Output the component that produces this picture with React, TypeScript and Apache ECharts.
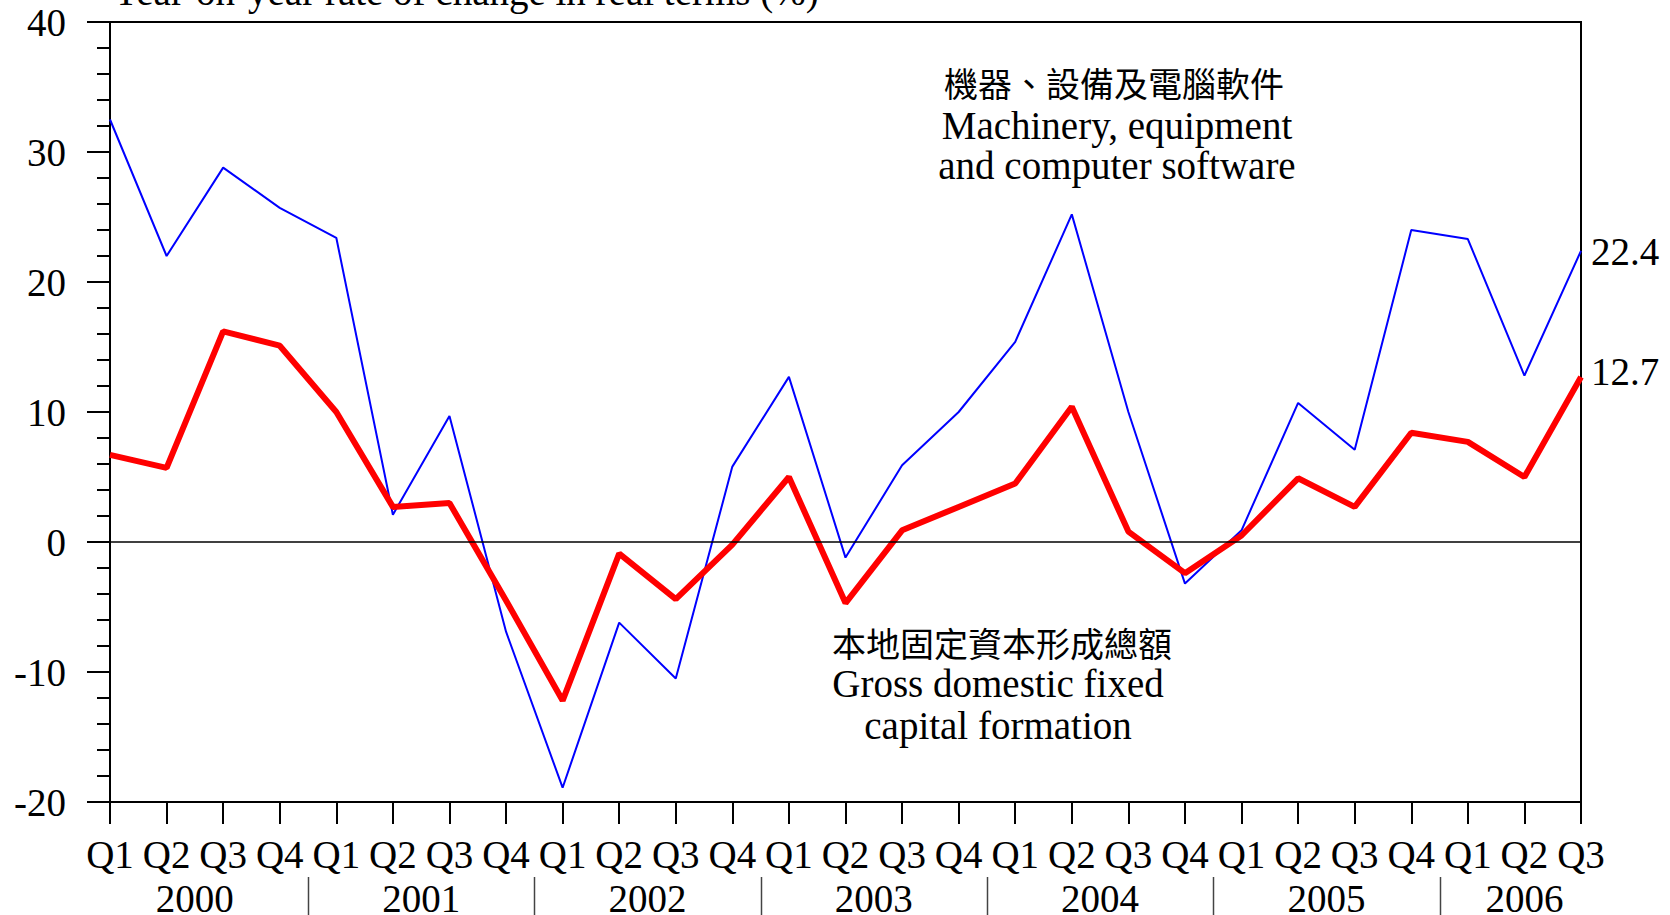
import React, { useEffect, useRef } from "react";
import * as echarts from "echarts";

const quarters = [
  "Q1", "Q2", "Q3", "Q4",
  "Q1", "Q2", "Q3", "Q4",
  "Q1", "Q2", "Q3", "Q4",
  "Q1", "Q2", "Q3", "Q4",
  "Q1", "Q2", "Q3", "Q4",
  "Q1", "Q2", "Q3", "Q4",
  "Q1", "Q2", "Q3",
];
const years = ["2000", "2001", "2002", "2003", "2004", "2005", "2006"];

const machinery = [
  32.5, 22.0, 28.8, 25.7,
  23.4, 2.1, 9.7, -6.9,
  -18.9, -6.2, -10.5, 5.8,
  12.7, -1.2, 5.9, 10.0,
  15.4, 25.2, 10.0, -3.2,
  0.9, 10.7, 7.1, 24.0,
  23.3, 12.8, 22.4,
];
const gdfcf = [
  6.7, 5.7, 16.2, 15.1,
  10.0, 2.7, 3.0, -4.5,
  -12.2, -0.9, -4.4, -0.2,
  5.0, -4.7, 0.9, 2.7,
  4.5, 10.4, 0.8, -2.4,
  0.5, 4.9, 2.7, 8.4,
  7.7, 5.0, 12.7,
];

const yTitle = "Year-on-year rate of change in real terms (%)";
const machineryLabel = ["機器、設備及電腦軟件", "Machinery, equipment", "and computer software"];
const gdfcfLabel = ["本地固定資本形成總額", "Gross domestic fixed", "capital formation"];

const SERIF = '"Liberation Serif", "Times New Roman", serif';
const CJK = '"Noto Sans CJK TC", "Noto Sans CJK SC", sans-serif';
const FS = 39;

export default function App() {
  const ref = useRef<HTMLDivElement>(null);

  useEffect(() => {
    document.body.style.margin = "0";
    const chart = echarts.init(ref.current!, null, { renderer: "svg" });
    const option: any = {
      animation: false,
      backgroundColor: "#ffffff",
      grid: {
        left: 110,
        right: 89,
        top: 22,
        bottom: 113,
        show: true,
        borderColor: "#000",
        borderWidth: 2,
        backgroundColor: "transparent",
      },
      xAxis: {
        type: "category",
        data: quarters,
        boundaryGap: false,
        axisLine: { show: true, onZero: false, lineStyle: { color: "#000", width: 2 } },
        axisTick: { show: true, inside: false, length: 22, interval: 0, lineStyle: { color: "#000", width: 2 } },
        axisLabel: {
          interval: 0,
          margin: 33,
          color: "#000",
          fontFamily: SERIF,
          fontSize: FS,
        },
        splitLine: { show: false },
      },
      yAxis: {
        type: "value",
        min: -20,
        max: 40,
        interval: 10,
        axisLine: { show: true, lineStyle: { color: "#000", width: 2 } },
        axisTick: { show: true, inside: false, length: 23, lineStyle: { color: "#000", width: 2 } },
        minorTick: { show: true, splitNumber: 5, length: 13, lineStyle: { color: "#000", width: 2 } },
        axisLabel: {
          margin: 44,
          color: "#000",
          fontFamily: SERIF,
          fontSize: FS,
        },
        splitLine: { show: false },
      },
      series: [
        {
          name: "Machinery",
          type: "line",
          data: machinery,
          symbol: "none",
          lineStyle: { color: "#0000ff", width: 2 },
          itemStyle: { color: "#0000ff" },
          z: 2,
          endLabel: {
            show: true,
            formatter: (p: any) => String(p.value),
            color: "#000",
            fontFamily: SERIF,
            fontSize: FS,
            distance: 10,
            offset: [0, 1],
          },
          markLine: {
            silent: true,
            symbol: "none",
            label: { show: false },
            lineStyle: { color: "#000", width: 1.5, type: "solid" },
            data: [{ yAxis: 0 }],
          },
        },
        {
          name: "GDFCF",
          type: "line",
          data: gdfcf,
          symbol: "none",
          lineStyle: { color: "#ff0000", width: 6 },
          itemStyle: { color: "#ff0000" },
          z: 3,
          endLabel: {
            show: true,
            formatter: (p: any) => String(p.value),
            color: "#000",
            fontFamily: SERIF,
            fontSize: FS,
            distance: 10,
            offset: [0, -5],
          },
        },
      ],
    };
    chart.setOption(option);

    const px = (i: number) => chart.convertToPixel({ xAxisIndex: 0 }, i) as number;
    const graphics: any[] = [];
    graphics.push({
      type: "text",
      x: 112,
      y: -9,
      style: { text: yTitle, font: `${FS}px ${SERIF}`, fill: "#000", align: "left", verticalAlign: "middle" },
    });
    years.forEach((yr, k) => {
      const first = 4 * k;
      const last = Math.min(4 * k + 3, quarters.length - 1);
      const cx = (px(first) + px(last)) / 2;
      graphics.push({
        type: "text",
        x: cx,
        y: 898,
        style: { text: yr, font: `${FS}px ${SERIF}`, fill: "#000", align: "center", verticalAlign: "middle" },
      });
      if (k > 0) {
        const sx = Math.round((px(first - 1) + px(first)) / 2) + 0.5;
        graphics.push({
          type: "line",
          shape: { x1: sx, y1: 877, x2: sx, y2: 915 },
          style: { stroke: "#444", lineWidth: 1.5 },
        });
      }
    });
    const mY = [82, 125, 165];
    machineryLabel.forEach((t, i) => {
      graphics.push({
        type: "text",
        x: i === 0 ? 1114 : 1117,
        y: mY[i],
        style: {
          text: t,
          font: i === 0 ? `34px ${CJK}` : `${FS}px ${SERIF}`,
          lineHeight: i === 0 ? 34 : 36,
          fill: "#000",
          align: "center",
          verticalAlign: "middle",
        },
      });
    });
    const gY = [642, 683, 725];
    gdfcfLabel.forEach((t, i) => {
      graphics.push({
        type: "text",
        x: i === 0 ? 1002 : 998,
        y: gY[i],
        style: {
          text: t,
          font: i === 0 ? `34px ${CJK}` : `${FS}px ${SERIF}`,
          lineHeight: i === 0 ? 34 : 36,
          fill: "#000",
          align: "center",
          verticalAlign: "middle",
        },
      });
    });
    chart.setOption({ graphic: graphics });

    return () => chart.dispose();
  }, []);

  return <div ref={ref} style={{ width: 1670, height: 915 }} />;
}
